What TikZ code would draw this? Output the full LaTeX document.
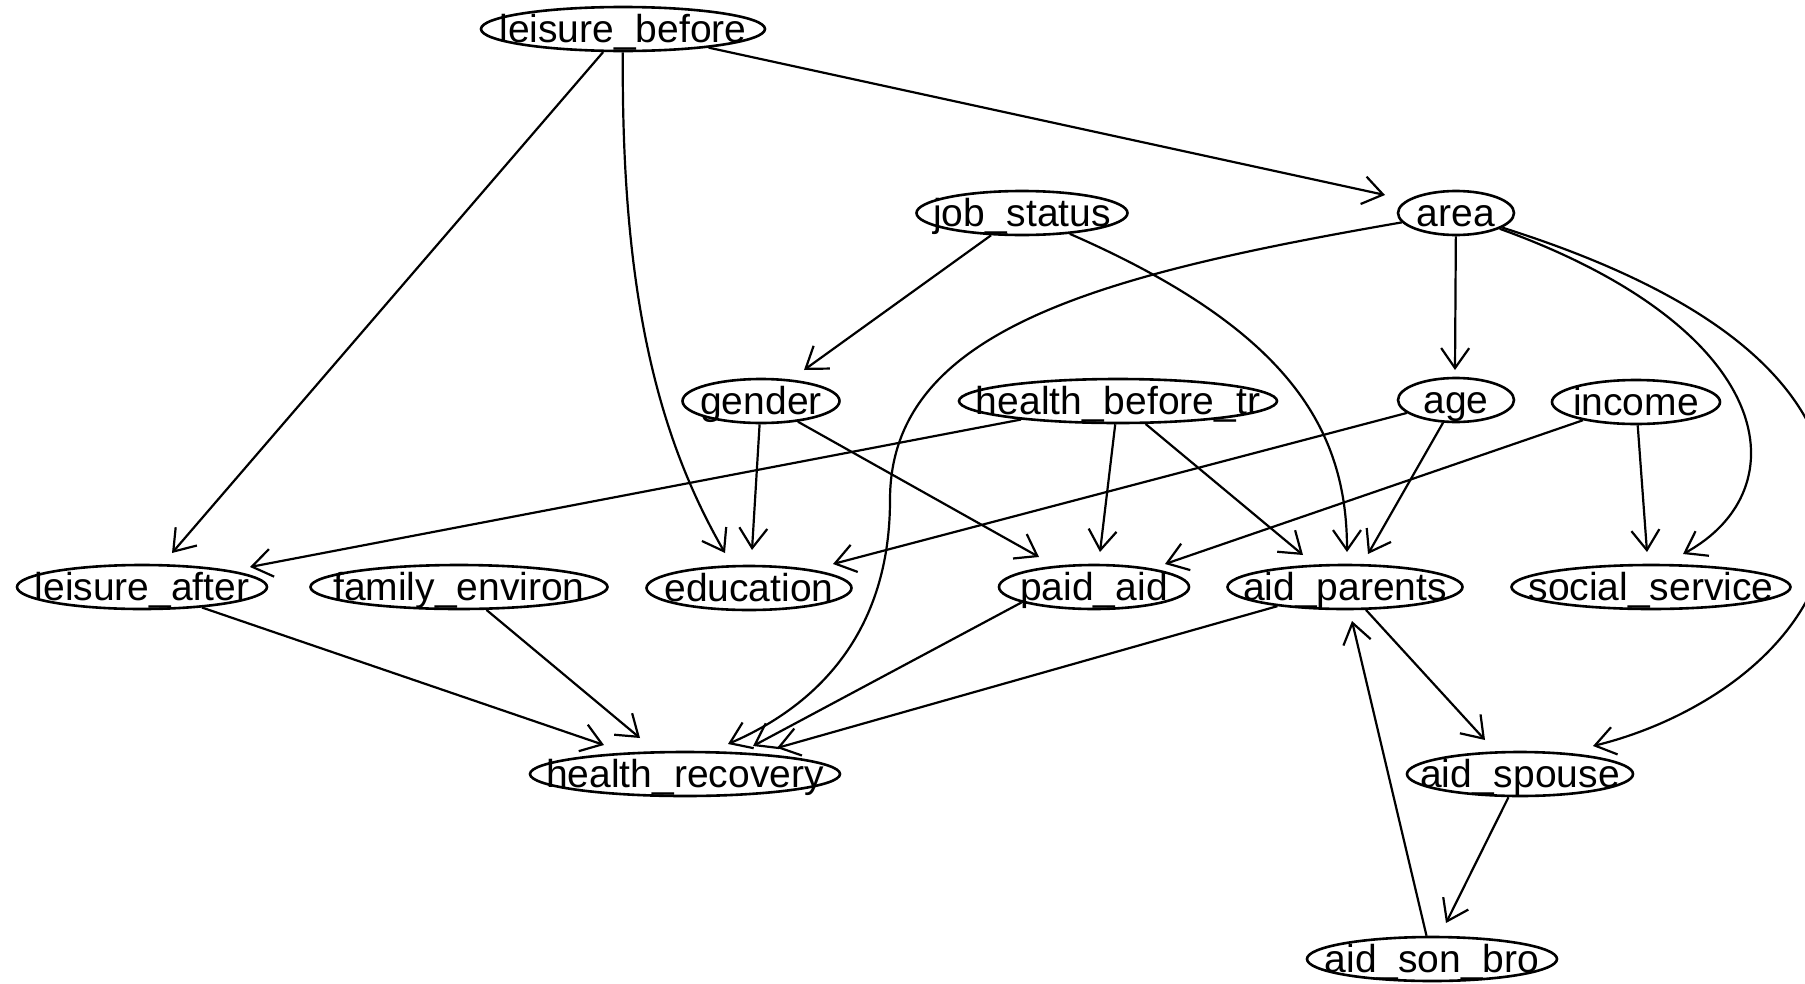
\documentclass[tikz,border=0pt]{standalone}
\usepackage{fontspec}
\setmainfont{Liberation Sans}
\usetikzlibrary{shapes.geometric,arrows.meta,calc}
\tikzset{
  nd/.style={ellipse, draw=black, line width=2.6pt, minimum width=#1, minimum height=44pt, inner sep=0pt, font=\fontsize{39pt}{40pt}\selectfont},
  edge/.style={line width=2.2pt, -{Straight Barb[length=20pt,width=28pt]}},
}
\newcommand\lbl[1]{\smash{\makebox[0pt]{\raisebox{-13pt}{#1}}}}
\begin{document}
\begin{tikzpicture}[x=1pt,y=-1pt]
\useasboundingbox (0,0) rectangle (1805,983);
\fill[white] (0,0) rectangle (1805,983);
\clip (0,0) rectangle (1805,983);
% nodes
\node[nd=284pt] (lb) at (623,29) {\lbl{leisure\_before}};
\node[nd=211pt] (js) at (1022,213) {\lbl{job\_status}};
\node[nd=116pt] (area) at (1456,213) {\lbl{area}};
\node[nd=157pt] (gender) at (761,401) {\lbl{gender}};
\node[nd=318pt] (hbt) at (1118,401) {\lbl{health\_before\_tr}};
\node[nd=116pt] (age) at (1456,400) {\lbl{age}};
\node[nd=168pt] (income) at (1636,402) {\lbl{income}};
\node[nd=250pt] (la) at (142,587) {\lbl{leisure\_after}};
\node[nd=297pt] (fe) at (459,587) {\lbl{family\_environ}};
\node[nd=205pt] (edu) at (749,588) {\lbl{education}};
\node[nd=190pt] (pa) at (1094,587) {\lbl{paid\_aid}};
\node[nd=235pt] (ap) at (1345,587) {\lbl{aid\_parents}};
\node[nd=279pt] (ss) at (1651,587) {\lbl{social\_service}};
\node[nd=310pt] (hr) at (685,774) {\lbl{health\_recovery}};
\node[nd=226pt] (asp) at (1520,774) {\lbl{aid\_spouse}};
\node[nd=250pt] (asb) at (1432,959) {\lbl{aid\_son\_bro}};
% edges
\draw[edge] (lb) -- ($(area)+(-71,-18)$);
\draw[edge] (lb) -- ($(la)+(30,-34)$);
\draw[edge] (lb) .. controls (621,300) and (660,440) .. ($(edu)+(-24,-35)$);
\draw[edge] (js) -- ($(gender)+(43,-31)$);
\draw[edge] (js) .. controls (1290,330) and (1347,430) .. ($(ap)+(2,-35)$);
\draw[edge] (area) -- ($(age)+(-1,-30)$);
\draw[edge] (area) .. controls (1098,275) and (890,330) .. (890,500) .. controls (890,620) and (830,700) .. ($(hr)+(43,-30)$);
\draw[edge] (area) .. controls (1780,330) and (1800,490) .. ($(ss)+(32,-33)$);
\draw[edge] (area) .. controls (1700,290) and (1830,380) .. (1830,510) .. controls (1830,640) and (1700,720) .. ($(asp)+(73,-28)$);
\draw[edge] (gender) -- ($(edu)+(3,-38)$);
\draw[edge] (gender) -- ($(pa)+(-55,-30)$);
\draw[edge] (hbt) -- ($(la)+(108,-20)$);
\draw[edge] (hbt) -- ($(pa)+(6,-35)$);
\draw[edge] (hbt) -- ($(ap)+(-42,-32)$);
\draw[edge] (age) -- ($(edu)+(84,-24)$);
\draw[edge] (age) -- ($(ap)+(23,-33)$);
\draw[edge] (income) -- ($(pa)+(71,-23)$);
\draw[edge] (income) -- ($(ss)+(-4,-35)$);
\draw[edge] (la) -- ($(hr)+(-81,-29)$);
\draw[edge] (fe) -- ($(hr)+(-45,-36)$);
\draw[edge] (pa.192) -- ($(hr)+(68,-28)$);
\draw[edge] (ap) -- ($(hr)+(92,-26)$);
\draw[edge] (ap) -- ($(asp)+(-35,-34)$);
\draw[edge] (asp) -- ($(asb)+(14,-36)$);
\draw[edge] (asb) -- ($(ap)+(7,34)$);
\end{tikzpicture}
\end{document}
